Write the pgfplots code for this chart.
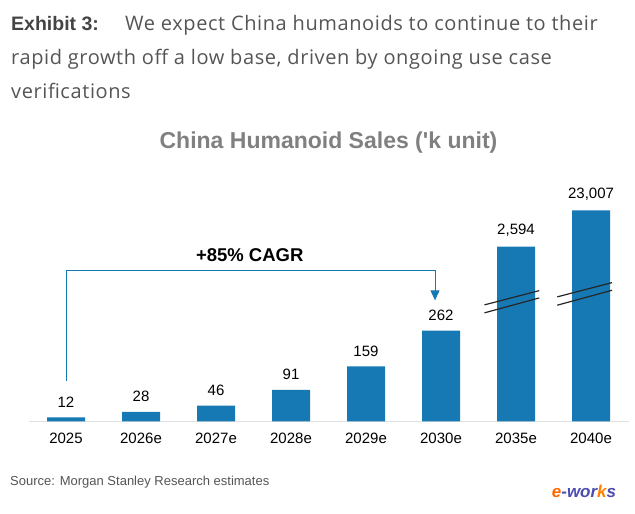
\documentclass[border=0pt]{standalone}
\usepackage{pgfplots}
\pgfplotsset{compat=1.18}
\usepackage{fontspec}
\setmainfont{Liberation Sans}
\newfontfamily\headfont[LetterSpace=3]{Open Sans}
\usetikzlibrary{arrows.meta}
\definecolor{barblue}{RGB}{23,121,180}
\definecolor{headgray}{RGB}{85,85,85}
\definecolor{titlegray}{RGB}{128,128,128}
\begin{document}
\begin{tikzpicture}[x=1bp,y=1bp]
\path[use as bounding box] (0,0) rectangle (635,514);
% header
\node[anchor=base west,inner sep=0,text=headgray!80!black,font=\fontsize{19.5bp}{23bp}\selectfont\bfseries] at (11,514-31) {Exhibit 3:};
\node[anchor=base west,inner sep=0,text=headgray,font=\headfont\fontsize{20bp}{23bp}\selectfont] at (125,514-31) {We expect China humanoids to continue to their};
\node[anchor=base west,inner sep=0,text=headgray,font=\headfont\fontsize{20bp}{23bp}\selectfont] at (11,514-65) {rapid growth off a low base, driven by ongoing use case};
\node[anchor=base west,inner sep=0,text=headgray,font=\headfont\fontsize{20bp}{23bp}\selectfont] at (11,514-99) {verifications};
% chart title
\node[anchor=center,inner sep=0,text=titlegray,font=\fontsize{23bp}{27bp}\selectfont\bfseries] at (328.5,514-143) {China Humanoid Sales (\textquotesingle k unit)};
\begin{axis}[
  at={(66bp,92.5bp)}, anchor=origin,
  scale only axis, width=600bp, height=243bp,
  xmin=-0.5, xmax=7.5, ymin=0, ymax=700,
  axis y line=none, axis x line=bottom,
  x axis line style={draw=black!12, line width=1pt, -},
  xtick={0,...,7},
  xticklabels={2025,2026e,2027e,2028e,2029e,2030e,2035e,2040e},
  major tick length=0pt,
  xticklabel style={font=\fontsize{15bp}{18bp}\selectfont, yshift=-8bp},
  ybar, bar width=38bp, bar shift=0pt,
  clip=false,
  nodes near coords,
  point meta=explicit symbolic,
  every node near coord/.append style={font=\fontsize{15bp}{18bp}\selectfont, anchor=south, yshift=6.5bp, text=black},
]
\addplot[fill=barblue, draw=none] table[meta=label] {
x y label
0 12 12
1 28 28
2 46 46
3 91 91
4 159 159
5 262 262
6 504 {2,594}
7 608 {23,007}
};
% break marks 2035e
\draw[black!85, line width=1.2pt] (axis cs:5.58,336) -- (axis cs:6.31,377);
\draw[black!85, line width=1.2pt] (axis cs:5.58,313) -- (axis cs:6.31,356);
% break marks 2040e
\draw[black!85, line width=1.2pt] (axis cs:6.55,359) -- (axis cs:7.28,400);
\draw[black!85, line width=1.2pt] (axis cs:6.55,335) -- (axis cs:7.28,378);
% CAGR arrow
\draw[barblue, line width=1pt, -{Triangle[width=9bp,length=10bp]}]
  (axis cs:0,117) -- (axis cs:0,436) -- (axis cs:4.92,436) -- (axis cs:4.92,349);
\node[font=\fontsize{18.5bp}{22bp}\selectfont\bfseries, anchor=center] at (axis cs:2.45,478) {+85\% CAGR};
\end{axis}
% source
\node[anchor=base west,inner sep=0,text=headgray,font=\fontsize{13bp}{16bp}\selectfont] at (10,514-486) {Source: Morgan Stanley Research estimates};
% logo
\node[anchor=center,inner sep=0,font=\fontsize{17bp}{20bp}\selectfont\bfseries\itshape] at (584,514-491) {\textcolor{orange!80!red}{e}\textcolor{blue!40!gray}{-wor}\textcolor{orange}{k}\textcolor{blue!40!gray}{s}};
\end{tikzpicture}
\end{document}
